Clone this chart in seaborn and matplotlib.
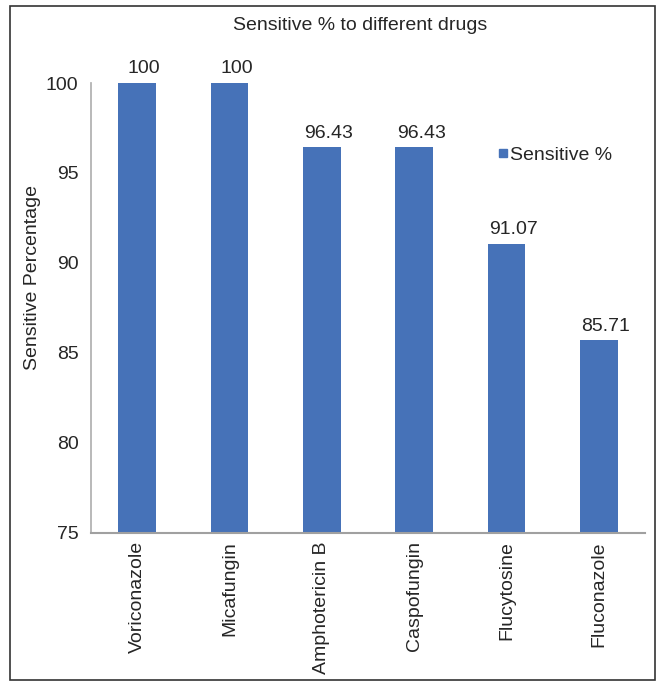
import matplotlib
matplotlib.use("Agg")
import matplotlib.pyplot as plt
import seaborn as sns
import pandas as pd
from matplotlib.patches import Rectangle
from matplotlib.lines import Line2D

drugs = ["Voriconazole", "Micafungin", "Amphotericin B", "Caspofungin", "Flucytosine", "Fluconazole"]
sensitive = [100, 100, 96.43, 96.43, 91.07, 85.71]
value_labels = ["100", "100", "96.43", "96.43", "91.07", "85.71"]
yticks = [75, 80, 85, 90, 95, 100]

sns.set_theme(style="white")
plt.rcParams['font.family'] = ['Liberation Sans', 'DejaVu Sans']

df = pd.DataFrame({"Drug": drugs, "Sensitive %": sensitive})
bar_color = "#4672B8"

fig = plt.figure(figsize=(6.57, 6.83), dpi=100)
ax = fig.add_axes([91/657, 1-533/683, (645-91)/657, (533-83)/683])

sns.barplot(data=df, x="Drug", y="Sensitive %", color=bar_color, width=0.41,
            saturation=1, ax=ax, linewidth=0)
ax.set_ylim(75, 100)
ax.set_yticks(yticks)
ax.set_yticklabels([str(t) for t in yticks], fontsize=14)
ax.set_xlabel("")
ax.set_ylabel("")
ax.tick_params(axis='x', labelrotation=90, labelsize=14, length=0, pad=6)
ax.tick_params(axis='y', length=0, pad=9)
for s in ["top", "right"]:
    ax.spines[s].set_visible(False)
ax.spines["left"].set_color("#b0b0b0")
ax.spines["bottom"].set_color("#a0a0a0")
ax.spines["bottom"].set_linewidth(1.5)
ax.set_xlim(-0.5, len(drugs) - 0.5)

for i, (v, lab) in enumerate(zip(sensitive, value_labels)):
    ax.annotate(lab, (i, v), xytext=(5, 4), textcoords="offset points",
                ha="center", va="bottom", fontsize=14, clip_on=False)

fig.text(33/657, 1-277/683, "Sensitive Percentage", rotation=90, ha="center", va="center", fontsize=14)
fig.text(360/657, 1-25/683, "Sensitive % to different drugs", ha="center", va="center", fontsize=14)

handle = Line2D([], [], marker="s", linestyle="none", color=bar_color, markersize=6)
fig.legend([handle], ["Sensitive %"], loc="center left", bbox_to_anchor=(487/657, 1-155/683),
           frameon=False, fontsize=14, handletextpad=0.0, borderaxespad=0, handlelength=0.8)

fig.patches.append(Rectangle((10/657, 3/683), 645/657, 674/683, transform=fig.transFigure,
                             fill=False, edgecolor="#333333", linewidth=1.2))

fig.savefig("out.png", dpi=100)
